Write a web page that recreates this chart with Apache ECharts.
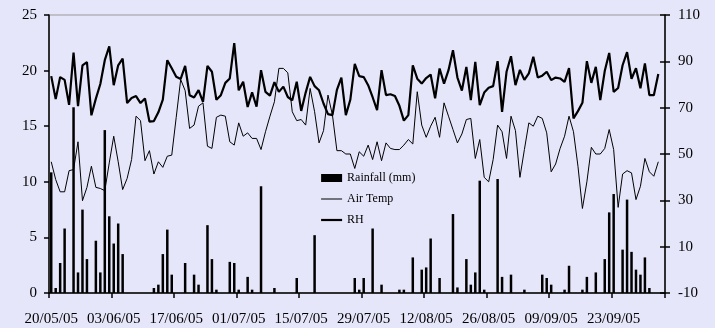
<!DOCTYPE html>
<html>
<head>
<meta charset="utf-8">
<script src="https://cdn.jsdelivr.net/npm/echarts@6/dist/echarts.min.js"></script>
<style>
html,body{margin:0;padding:0;background:#E6E6FA;}
#chart{width:715px;height:328px;}
</style>
</head>
<body>
<div id="chart"></div>
<script>
// Daily categories: 20/05/05 .. 04/10/05 (138 days)
const startDate = [2005, 4, 20];
const dayCount = 138;
const categories = [];
for (let k = 0; k < dayCount; k++) {
  const d = new Date(Date.UTC(startDate[0], startDate[1], startDate[2] + k));
  const dd = String(d.getUTCDate()).padStart(2, '0');
  const mm = String(d.getUTCMonth() + 1).padStart(2, '0');
  const yy = String(d.getUTCFullYear()).slice(2);
  categories.push(dd + '/' + mm + '/' + yy);
}

const tickLabels = ['20/05/05','03/06/05','17/06/05','01/07/05','15/07/05','29/07/05','12/08/05','26/08/05','09/09/05','23/09/05'];

const rainfall = [
  10.85,0.45,2.7,5.8,0,16.7,1.85,7.5,3.05,0,
  4.7,1.85,14.65,6.9,4.45,6.25,3.5,0,0,0,
  0,0,0,0.45,0.75,3.5,5.7,1.65,0,0,
  2.7,0,1.65,0.75,0,6.1,3.05,0.3,0,0,
  2.8,2.7,0.3,0,1.45,0.3,0,9.6,0,0,
  0.45,0,0,0,0,1.35,0,0,0,5.2,
  0,0,0,0,0,0,0,0,1.35,0.3,
  1.35,0,5.8,0,0.75,0,0,0,0.3,0.3,
  0,3.2,0,2.1,2.3,4.9,0,1.35,0,0,
  7.1,0.5,0,3.05,0.75,1.85,10.1,0.3,0,0,
  10.25,1.45,0,1.65,0,0,0.3,0,0,0,
  1.65,1.35,0.75,0,0,0.3,2.45,0,0,0.3,
  1.45,0,1.85,0,3.05,7.25,8.9,0,3.9,8.4,
  3.7,2.1,1.65,3.2,0.45,0,0
];

const airTemp = [
  11.8,10.2,9.1,9.1,11.0,11.1,13.6,8.3,9.5,11.4,
  9.5,9.4,9.2,11.7,14.1,11.8,9.3,10.3,12.0,15.9,
  15.5,11.9,12.8,10.7,11.8,11.3,12.3,12.4,15.8,19.2,
  18.2,14.8,15.1,16.8,17.1,13.2,13.0,15.8,16.0,15.9,
  13.6,13.3,15.3,14.1,14.4,13.9,13.9,12.9,14.5,15.9,
  17.2,20.2,20.2,19.8,16.3,15.5,15.6,15.1,18.4,16.3,
  13.5,14.6,17.8,16.0,12.8,12.8,12.5,12.5,11.2,12.7,
  12.3,13.3,12.0,13.6,11.9,13.5,13.0,12.9,12.9,13.3,
  13.8,13.4,18.1,15.1,14.0,15.0,15.8,14.0,17.1,15.9,
  14.7,13.5,14.3,15.6,15.7,12.1,13.8,10.4,10.0,12.0,
  15.1,14.5,12.1,15.9,14.6,10.4,12.9,15.3,15.0,15.9,
  15.7,14.4,10.9,11.6,13.0,14.1,15.9,14.5,11.4,7.6,
  10.0,13.1,12.5,12.5,13.0,14.7,12.9,7.7,10.7,11.0,
  10.8,8.4,9.6,12.1,10.9,10.5,11.8
];

const rh = [
  83.6,73.7,83.2,82.0,71.2,93.8,70.7,88.3,89.7,66.7,
  73.9,80.2,90.5,96.5,79.7,88.3,91.2,72.0,74.2,75.0,
  72.0,74.0,64.0,64.2,68.0,73.5,90.5,87.0,83.3,82.4,
  88.0,75.4,74.4,77.6,72.5,88.0,85.5,73.4,75.4,80.7,
  82.6,97.9,77.5,81.2,70.3,76.6,70.4,86.2,76.8,75.2,
  81.0,76.8,79.1,74.6,73.2,81.2,68.6,76.5,83.3,79.3,
  77.5,71.8,67.2,66.8,77.7,83.0,66.8,73.4,88.9,83.6,
  83.2,79.7,74.5,68.9,86.2,75.4,75.8,75.0,70.8,64.4,
  66.8,88.3,82.5,80.4,82.8,84.3,74.0,86.9,80.4,86.2,
  94.8,83.0,77.4,87.6,73.3,89.8,71.1,76.5,78.6,79.3,
  90.1,68.2,85.5,92.2,79.7,86.3,82.0,84.8,92.0,83.0,
  83.8,85.5,81.9,83.0,82.6,81.1,87.1,65.4,68.5,72.1,
  90.1,80.7,87.6,73.3,85.8,93.6,76.8,78.5,88.3,94.0,
  82.5,87.0,78.4,89.1,75.4,75.4,84.5
];

const leftTicks = [0, 5, 10, 15, 20, 25];
const rightTicks = [-10, 10, 30, 50, 70, 90, 110];

const font = 'Liberation Serif';
const noSymbol = {color: 'rgba(0,0,0,0)', borderWidth: 0, opacity: 0};
const chart = echarts.init(document.getElementById('chart'), null, {renderer: 'canvas'});
chart.setOption({
  animation: false,
  backgroundColor: '#E6E6FA',
  textStyle: {fontFamily: font},
  grid: {left: 49, right: 50, top: 15, bottom: 35, show: true, borderColor: '#999999', borderWidth: 1, backgroundColor: 'transparent'},
  legend: {
    orient: 'vertical', left: 320, top: 172, padding: 0,
    itemWidth: 21, itemHeight: 8, itemGap: 9,
    textStyle: {fontFamily: font, fontSize: 12, color: '#000'},
    data: [
      {name: 'Rainfall (mm)', icon: 'rect'},
      {name: 'Air Temp', itemStyle: noSymbol, lineStyle: {color: '#000', width: 1}},
      {name: 'RH', itemStyle: noSymbol, lineStyle: {color: '#000', width: 2.2}}
    ]
  },
  xAxis: {
    type: 'category', data: categories, boundaryGap: true,
    axisLine: {lineStyle: {color: '#000', width: 1.5}},
    axisTick: {show: true, interval: 13, length: 5, lineStyle: {color: '#000', width: 1.5}},
    axisLabel: {interval: 13, color: '#000', fontFamily: font, fontSize: 15, margin: 19,
      formatter: function (v) { return tickLabels.indexOf(v) >= 0 ? v : ''; }},
    splitLine: {show: false}
  },
  yAxis: [
    {type: 'value', min: 0, max: 25, interval: 5, position: 'left',
      axisLine: {show: true, lineStyle: {color: '#000', width: 1.5}},
      axisTick: {show: true, length: 5, lineStyle: {color: '#000', width: 1.5}, customValues: leftTicks},
      axisLabel: {color: '#000', fontFamily: font, fontSize: 15, margin: 12, customValues: leftTicks},
      splitLine: {show: false}},
    {type: 'value', min: -10, max: 110, position: 'right',
      axisLine: {show: true, lineStyle: {color: '#000', width: 1.5}},
      axisTick: {show: true, length: 5, lineStyle: {color: '#000', width: 1.5}, customValues: rightTicks},
      axisLabel: {color: '#000', fontFamily: font, fontSize: 15, margin: 13, customValues: rightTicks},
      splitLine: {show: false}},
    {type: 'value', min: -10, max: 110, position: 'right',
      axisLine: {show: false},
      axisTick: {show: true, inside: true, length: 5, lineStyle: {color: '#000', width: 1.5}, customValues: rightTicks},
      axisLabel: {show: false, customValues: rightTicks},
      splitLine: {show: false}}
  ],
  series: [
    {name: 'Rainfall (mm)', type: 'bar', data: rainfall, yAxisIndex: 0, barWidth: 2.5,
      itemStyle: {color: '#000'}},
    {name: 'Air Temp', type: 'line', data: airTemp, yAxisIndex: 0, symbol: 'none',
      lineStyle: {color: '#000', width: 1}, itemStyle: {color: '#000'}},
    {name: 'RH', type: 'line', data: rh, yAxisIndex: 1, symbol: 'none',
      lineStyle: {color: '#000', width: 2.2}, itemStyle: {color: '#000'}}
  ]
});
</script>
</body>
</html>
